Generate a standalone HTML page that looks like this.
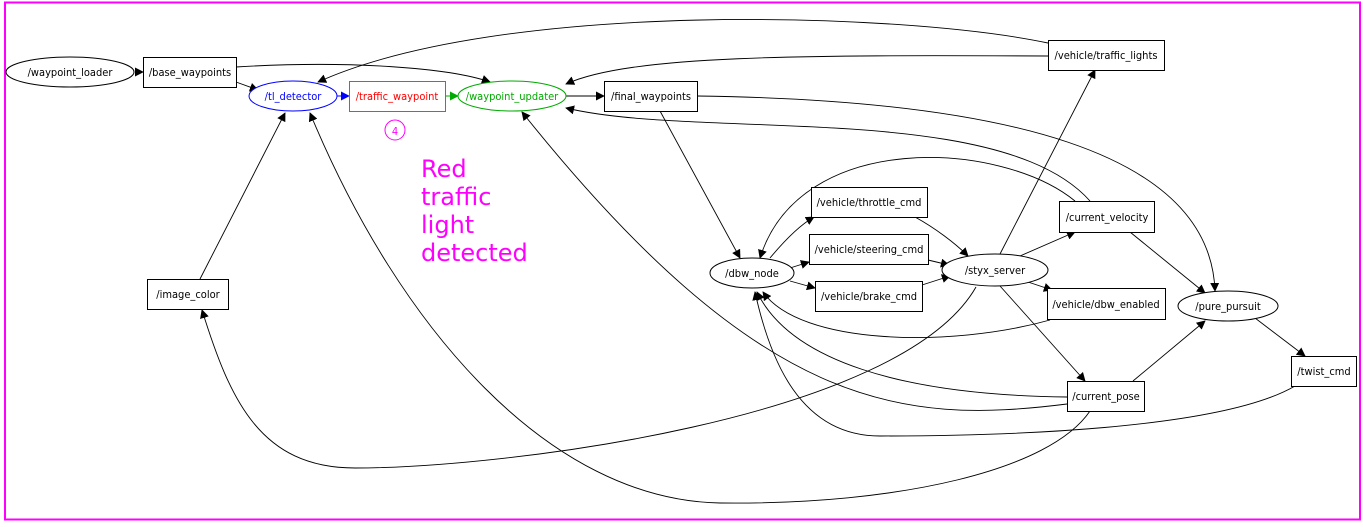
<!DOCTYPE html>
<html><head><meta charset="utf-8"><style>
html,body{margin:0;padding:0;background:#fff;}
svg{display:block;}
text{font-family:"DejaVu Sans Condensed","DejaVu Sans","Liberation Sans",sans-serif;font-size:11px;}
</style></head><body>
<svg width="1363" height="527" viewBox="0 0 1363 527" xmlns="http://www.w3.org/2000/svg">
<defs>
<marker id="a" viewBox="0 0 10 10" refX="9" refY="5" markerWidth="9" markerHeight="9" markerUnits="userSpaceOnUse" orient="auto"><path d="M0,0 L10,5 L0,10 z" fill="#000"/></marker>
<marker id="ab" viewBox="0 0 10 10" refX="9" refY="5" markerWidth="9" markerHeight="9" markerUnits="userSpaceOnUse" orient="auto"><path d="M0,0 L10,5 L0,10 z" fill="#0000ff"/></marker>
<marker id="ag" viewBox="0 0 10 10" refX="9" refY="5" markerWidth="9" markerHeight="9" markerUnits="userSpaceOnUse" orient="auto"><path d="M0,0 L10,5 L0,10 z" fill="#00aa00"/></marker>
</defs>
<rect x="0" y="0" width="1363" height="527" fill="#fff"/>
<rect x="5" y="2.5" width="1355" height="517" fill="none" stroke="#ff00ff" stroke-width="2"/>

<g fill="none" stroke="#000" stroke-width="0.9" marker-end="url(#a)">
<path d="M135,72 L143,72"/>
<path d="M236,82 L258,90"/>
<path d="M236,67 C350,60 450,68 490,82"/>
<path d="M566,96 L604,96"/>
<path d="M1048,43 C900,12 500,0 318,82"/>
<path d="M1048,56 C800,55 630,55 566,84"/>
<path d="M697,96 C1000,100 1210,150 1215,291"/>
<path d="M660,111 L740,258"/>
<path d="M1090,201 C1000,100 700,140 566,108"/>
<path d="M1075,201 C1000,140 800,130 760,258"/>
<path d="M770,258 C785,240 800,225 814,217"/>
<path d="M790,268 L809,262"/>
<path d="M790,281 L815,288"/>
<path d="M915,217 C935,228 955,243 968,256"/>
<path d="M928,260 L949,265"/>
<path d="M922,285 L950,276"/>
<path d="M1000,254 L1095,70"/>
<path d="M1020,256 L1075,232"/>
<path d="M1028,282 L1052,290"/>
<path d="M1000,286 L1085,381"/>
<path d="M976,287 C900,420 500,468 355,468 C260,468 230,400 202,310"/>
<path d="M1130,232 L1205,293"/>
<path d="M1050,320 C950,348 800,345 763,292"/>
<path d="M1067,397 C900,395 790,360 757,292"/>
<path d="M1067,404 C900,425 760,410 522,112"/>
<path d="M1133,381 L1205,321"/>
<path d="M1090,411 C1050,470 900,505 720,503 C550,500 400,330 310,113"/>
<path d="M1255,318 L1305,356"/>
<path d="M1295,386 C1220,430 1000,436 880,436 C800,436 770,360 755,292"/>
<path d="M200,279 L285,113"/>
</g>
<path d="M337,96 L349,96" stroke="#0000ff" fill="none" marker-end="url(#ab)"/>
<path d="M445,96 L458,96" stroke="#00aa00" fill="none" marker-end="url(#ag)"/>

<g stroke="#000" stroke-width="1" fill="#fff">
<ellipse cx="70" cy="72" rx="64" ry="15"/>
<rect x="143.5" y="57.5" width="93" height="30"/>
<rect x="604.5" y="81.5" width="93" height="30"/>
<rect x="1048.5" y="40.5" width="116" height="30"/>
<rect x="147.5" y="279.5" width="81" height="30"/>
<ellipse cx="752" cy="273" rx="42" ry="15"/>
<rect x="811.5" y="187.5" width="116" height="30"/>
<rect x="809.5" y="234.5" width="119" height="30"/>
<rect x="815.5" y="281.5" width="107" height="30"/>
<ellipse cx="995" cy="270" rx="53" ry="16"/>
<rect x="1059.5" y="201.5" width="95" height="31"/>
<rect x="1047.5" y="288.5" width="118" height="31"/>
<ellipse cx="1228" cy="306" rx="50" ry="15"/>
<rect x="1291.5" y="356.5" width="65" height="30"/>
<rect x="1067.5" y="381.5" width="77" height="30"/>
</g>
<ellipse cx="293" cy="96" rx="44" ry="15" fill="#fff" stroke="#0000ff"/>
<rect x="349.5" y="81.5" width="96" height="30" fill="#fff" stroke="#ff3333"/>
<ellipse cx="512" cy="96" rx="54" ry="15" fill="#fff" stroke="#00aa00"/>
<circle cx="395" cy="130" r="10" fill="none" stroke="#ff00ff"/>

<g text-anchor="middle" fill="#000">
<text x="70" y="76">/waypoint_loader</text>
<text x="190" y="76">/base_waypoints</text>
<text x="293" y="100" fill="#0000ff">/tl_detector</text>
<text x="397" y="100" fill="#ff0000">/traffic_waypoint</text>
<text x="512" y="100" fill="#00aa00">/waypoint_updater</text>
<text x="651" y="100">/final_waypoints</text>
<text x="395" y="135" fill="#ff00ff" font-size="12">4</text>
<text x="1106" y="59">/vehicle/traffic_lights</text>
<text x="188" y="298">/image_color</text>
<text x="752" y="277">/dbw_node</text>
<text x="869" y="206">/vehicle/throttle_cmd</text>
<text x="869" y="253">/vehicle/steering_cmd</text>
<text x="869" y="300">/vehicle/brake_cmd</text>
<text x="995" y="274">/styx_server</text>
<text x="1107" y="221">/current_velocity</text>
<text x="1106" y="308">/vehicle/dbw_enabled</text>
<text x="1228" y="310">/pure_pursuit</text>
<text x="1324" y="375">/twist_cmd</text>
<text x="1106" y="400">/current_pose</text>
</g>
<g fill="#ff00ff">
<text x="421" y="177" style="font-size:24px;font-family:'DejaVu Sans',sans-serif">Red</text>
<text x="421" y="205" style="font-size:24px;font-family:'DejaVu Sans',sans-serif">traffic</text>
<text x="421" y="233" style="font-size:24px;font-family:'DejaVu Sans',sans-serif">light</text>
<text x="421" y="261" style="font-size:24px;font-family:'DejaVu Sans',sans-serif">detected</text>
</g>
</svg>
</body></html>
